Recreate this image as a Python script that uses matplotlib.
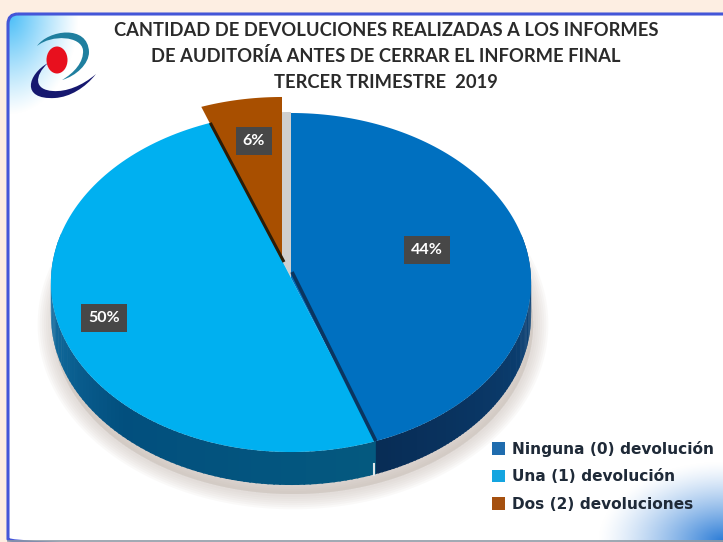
import matplotlib
matplotlib.use("Agg")
import matplotlib.pyplot as plt
import numpy as np
from matplotlib.patches import FancyBboxPatch, PathPatch, Ellipse, Polygon, Patch
from matplotlib.path import Path

# Data
categories = ["Ninguna (0) devolución", "Una (1) devolución", "Dos (2) devoluciones"]
percentages = [44.4, 50.0, 5.6]
title_lines = [
    "CANTIDAD DE DEVOLUCIONES REALIZADAS A LOS INFORMES",
    "DE AUDITORÍA ANTES DE CERRAR EL INFORME FINAL",
    "TERCER TRIMESTRE  2019",
]

top_colors = ["#0070c0", "#00b0f0", "#a84f00"]
legend_colors = ["#1f6cae", "#14a5e0", "#a5500f"]

W, H = 723, 542
CX, CY = 291, 278
R, S, P = 240, 169.4, 0.0266
DEPTH = 33


def project(a):
    # a = degrees clockwise from 12 o'clock, slight perspective like the 3D pie
    a = np.radians(a)
    x, y = np.sin(a), np.cos(a)
    d = 1 + P * y
    return CX + R * x / d, CY - S * y / d


def wedge_pts(a0, a1, dx=0, dy=0):
    t = np.linspace(a0, a1, 120)
    xs, ys = project(t)
    return np.column_stack([np.r_[CX, xs] + dx, np.r_[CY, ys] + dy])


def mix(c0, c1, f):
    c0, c1 = matplotlib.colors.to_rgb(c0), matplotlib.colors.to_rgb(c1)
    return tuple(a + (b - a) * f for a, b in zip(c0, c1))


fig = plt.figure(figsize=(W / 100, H / 100), dpi=100, facecolor="#fdeee2")
ax = fig.add_axes([0, 0, 1, 1])
ax.set_xlim(0, W)
ax.set_ylim(H, 0)
ax.axis("off")

# Panel with gradient corners
panel = FancyBboxPatch((8, 14), W + 20, 535, boxstyle="round,pad=0,rounding_size=10",
                       fc="white", ec="none", zorder=1)
ax.add_patch(panel)
gx, gy = np.meshgrid(np.arange(W), np.arange(H))
tl = np.clip(1 - np.hypot((gx - 8) / 70, (gy - 14) / 100), 0, 1) ** 1.1
br = np.clip(1 - np.hypot((gx - 723) / 125, (gy - 541) / 80), 0, 1) ** 1.3
img = np.ones((H, W, 3))
for i, (c1, c2) in enumerate(zip((0.28, 0.74, 0.97), (0.16, 0.48, 0.84))):
    img[..., i] = 1 - (1 - c1) * tl - (1 - c2) * br
img = np.clip(img, 0, 1)
im = ax.imshow(img, extent=(0, W, H, 0), zorder=1.1, aspect="auto")
im.set_clip_path(panel)
ax.set_xlim(0, W)
ax.set_ylim(H, 0)
ax.add_patch(FancyBboxPatch((8, 14), W + 20, 535, boxstyle="round,pad=0,rounding_size=10",
                            fc="none", ec="#4456d8", lw=2.2, zorder=1.2))
ax.plot([8, W], [540.5, 540.5], color="#8f9aa5", lw=1.2, zorder=1.25)

# Logo
logo_top = Path([(37, 46), (48, 30), (88, 24), (89, 52), (89, 64), (76, 76), (62, 80),
                 (74, 73), (84, 62), (83, 50), (81, 36), (52, 34), (37, 46)],
                [Path.MOVETO] + [Path.CURVE4] * 12)
logo_low = Path([(48, 63), (28, 74), (20, 100), (55, 98), (70, 97), (85, 88), (96, 74),
                 (82, 86), (66, 92), (53, 91), (34, 90), (34, 76), (48, 63)],
                [Path.MOVETO] + [Path.CURVE4] * 12)
ax.add_patch(PathPatch(logo_top, fc="#1f7f9f", ec="none", zorder=2))
ax.add_patch(PathPatch(logo_low, fc="#16186f", ec="none", zorder=2))
ax.add_patch(Ellipse((57, 60), 21, 27, fc="#e8101e", ec="none", zorder=2.1))

# Title
for line, y in zip(title_lines, (30, 56, 82)):
    ax.text(386, y, line, ha="center", va="center", fontsize=13.2, fontweight="bold",
            family="Lato", color="#2a2a2a", zorder=3)

# Pie angles from the values
edges = np.r_[0, np.cumsum(percentages)] / sum(percentages) * 360
a_blue = (edges[0], edges[1])
a_light = (edges[1], edges[2])
a_brown = (edges[2], edges[3])

# Soft shadow under the pie
outline = np.column_stack(project(np.linspace(0, 360, 240)))
for lw in np.arange(22, 2, -3):
    ax.add_patch(Polygon(outline + [2, DEPTH + 9], closed=True, fc="#c4b9b0", ec="#c4b9b0",
                         lw=lw, alpha=0.08, zorder=3))

# Side walls, shaded slice by slice
for (a0, a1), stops in zip((a_blue, a_light),
                           (("#0f4f88", "#0a3a6a", "#082c55"),
                            ("#04597f", "#024f7e", "#1c7fb5"))):
    steps = np.linspace(max(a0, 75) if a1 < 200 else a0, min(a1, 285), 90)
    for s0, s1 in zip(steps[:-1], steps[1:]):
        xs, ys = project(np.array([s0, s1 + 0.4]))
        f = (s0 - steps[0]) / (steps[-1] - steps[0])
        if f < 0.5:
            col = mix(stops[0], stops[1], f / 0.5)
        else:
            col = mix(stops[1], stops[2], (f - 0.5) / 0.5)
        ax.add_patch(Polygon([(xs[0], ys[0]), (xs[1], ys[1]),
                              (xs[1], ys[1] + DEPTH), (xs[0], ys[0] + DEPTH)],
                             closed=True, fc=col, ec="none", zorder=4))

# small notch between the two walls
nx, ny = project(a_blue[1])
ax.plot([nx - 2, nx - 2], [ny + DEPTH - 10, ny + DEPTH + 1], color="#dfe6ea", lw=1.5, zorder=4.2)

# Exploded slice with its grey shadow strip
BROWN_DX, BROWN_DY = -9, -16
ax.add_patch(Polygon(wedge_pts(*a_brown, dx=0, dy=-1), closed=True, fc="#cfcfcf", ec="none", zorder=4.5))
ax.add_patch(Polygon(wedge_pts(*a_brown, dx=BROWN_DX, dy=BROWN_DY), closed=True,
                     fc=top_colors[2], ec="none", zorder=5))

# Top faces
ax.add_patch(Polygon(wedge_pts(*a_blue), closed=True, fc=top_colors[0], ec="none", zorder=6))
ax.add_patch(Polygon(wedge_pts(*a_light), closed=True, fc=top_colors[1], ec="none", zorder=6))

# Dark slice edges
ex, ey = project(a_blue[1])
ax.plot([CX + 1, ex], [CY - 6, ey], color="#0a3560", lw=2.6, solid_capstyle="butt", zorder=7)
ex, ey = project(a_light[1])
ax.plot([ex, CX - 7], [ey, CY - 16], color="#2b1c08", lw=2.2, solid_capstyle="butt", zorder=7)

# Percent labels
for val, (lx, ly) in zip(percentages, ((427, 250), (104, 318), (254, 141))):
    ax.text(lx, ly, f"{val:.0f}%", ha="center", va="center", color="white", fontsize=11.5,
            fontweight="bold", family="Lato", zorder=9,
            bbox=dict(boxstyle="square,pad=0.42", fc="#474747", ec="none"))

# Legend
handles = [Patch(fc=c, ec="none", label=t) for c, t in zip(legend_colors, categories)]
leg = ax.legend(handles=handles, loc="upper left", bbox_to_anchor=(492 / W, 1 - 441 / H),
                frameon=False, fontsize=11.1, handlelength=0.85, handleheight=0.9, handletextpad=0.42,
                labelspacing=0.8, borderpad=0, borderaxespad=0)
leg.set_zorder(9)
for t in leg.get_texts():
    t.set_color("#1f2a38")
    t.set_fontweight("bold")

fig.savefig("out.png", dpi=100)
plt.close(fig)
